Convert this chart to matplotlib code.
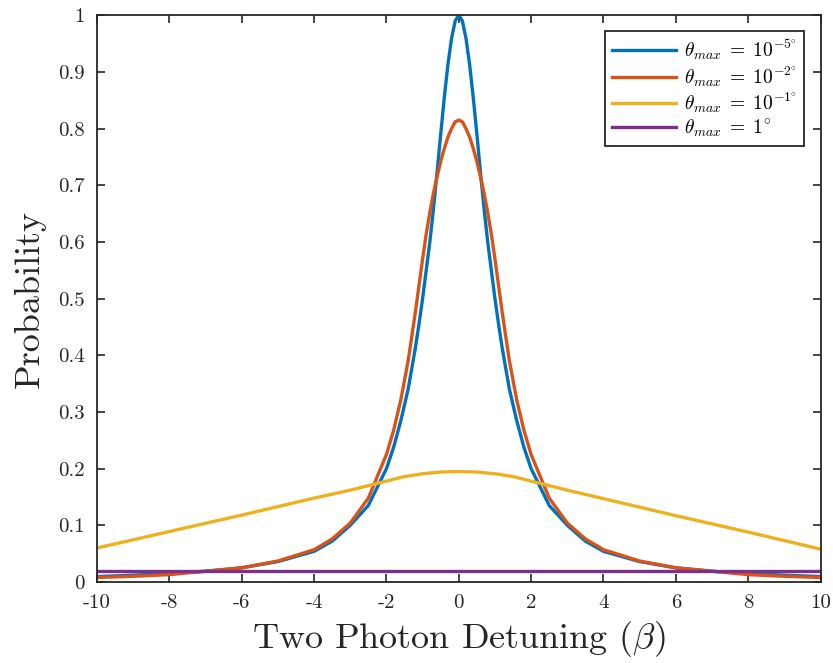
import matplotlib
matplotlib.use('Agg')
import matplotlib.pyplot as plt

plt.rcParams['mathtext.fontset'] = 'cm'
plt.rcParams['font.family'] = 'serif'
plt.rcParams['font.serif'] = ['cmr10', 'DejaVu Serif']
plt.rcParams['axes.unicode_minus'] = False
plt.rcParams['axes.formatter.use_mathtext'] = True

# detuning grid (beta), finer near the resonance
beta = [-10, -9, -8, -7, -6, -5, -4, -3.5, -3, -2.5, -2, -1.8, -1.6, -1.4, -1.2,
        -1.1, -1.0, -0.9, -0.8, -0.7, -0.6, -0.5, -0.4, -0.3, -0.2, -0.1, 0,
        0.1, 0.2, 0.3, 0.4, 0.5, 0.6, 0.7, 0.8, 0.9, 1.0, 1.1, 1.2, 1.4, 1.6,
        1.8, 2, 2.5, 3, 3.5, 4, 5, 6, 7, 8, 9, 10]

p_1e5 = [0.0095, 0.012, 0.015, 0.019, 0.025, 0.036, 0.054, 0.072, 0.10, 0.135, 0.20,
         0.238, 0.285, 0.34, 0.413, 0.455, 0.50, 0.55, 0.60, 0.658, 0.723, 0.79,
         0.855, 0.913, 0.959, 0.99, 1.0, 0.99, 0.959, 0.913, 0.855, 0.79, 0.723,
         0.658, 0.60, 0.55, 0.50, 0.455, 0.413, 0.34, 0.285, 0.238, 0.20, 0.135,
         0.10, 0.072, 0.054, 0.036, 0.025, 0.019, 0.015, 0.012, 0.0095]

p_1e2 = [0.008, 0.010, 0.013, 0.019, 0.025, 0.037, 0.057, 0.076, 0.104, 0.148, 0.225,
         0.268, 0.322, 0.39, 0.476, 0.523, 0.57, 0.614, 0.652, 0.686, 0.715, 0.742,
         0.765, 0.785, 0.80, 0.812, 0.815, 0.812, 0.80, 0.785, 0.765, 0.742, 0.715,
         0.686, 0.652, 0.614, 0.57, 0.523, 0.476, 0.39, 0.322, 0.268, 0.225, 0.148,
         0.104, 0.076, 0.057, 0.037, 0.025, 0.019, 0.013, 0.010, 0.008]

beta_wide = [-10, -8, -6, -4, -3, -2, -1.5, -1, -0.5, 0, 0.5, 1, 1.5, 2, 3, 4, 6, 8, 10]
p_1e1 = [0.060, 0.089, 0.118, 0.148, 0.162, 0.178, 0.186, 0.191, 0.194, 0.195,
         0.194, 0.191, 0.186, 0.178, 0.162, 0.147, 0.117, 0.088, 0.058]

beta_flat = [-10, 10]
p_1deg = [0.02, 0.02]

labels = [r'$\theta_{max}\;=\;10^{-5^{\circ}}$', r'$\theta_{max}\;=\;10^{-2^{\circ}}$',
          r'$\theta_{max}\;=\;10^{-1^{\circ}}$', r'$\theta_{max}\;=\;1^{\circ}$']
colors = ['#0072BD', '#D95319', '#EDB120', '#7E2F8E']

fig = plt.figure(figsize=(8.33, 6.63), dpi=100)
ax = fig.add_axes([0.1165, 0.1222, 0.8685, 0.8548])

ax.plot(beta, p_1e5, color=colors[0], lw=2.4, label=labels[0])
ax.plot(beta, p_1e2, color=colors[1], lw=2.4, label=labels[1])
ax.plot(beta_wide, p_1e1, color=colors[2], lw=2.4, label=labels[2])
ax.plot(beta_flat, p_1deg, color=colors[3], lw=2.4, label=labels[3])

ax.set_xlim(-10, 10)
ax.set_ylim(0, 1)
ax.set_xticks(range(-10, 11, 2))
ax.set_xticklabels([str(v) for v in range(-10, 11, 2)])
yt = [i / 10 for i in range(11)]
ax.set_yticks(yt)
ax.set_yticklabels(['0'] + ['%.1f' % v for v in yt[1:-1]] + ['1'])
ax.tick_params(direction='in', top=True, right=True, length=6, width=1.2,
               labelsize=15, colors='#262626', labelcolor='#262626', pad=9)
for s in ax.spines.values():
    s.set_linewidth(1.3)
    s.set_color('#262626')

ax.set_xlabel(r'Two Photon Detuning ($\beta$)', fontsize=26, color='#262626',
              labelpad=5)
ax.set_ylabel('Probability', fontsize=26, color='#262626', labelpad=9)

leg = ax.legend(loc='upper right', bbox_to_anchor=(0.977, 0.972), fontsize=14,
                fancybox=False, framealpha=1, edgecolor='#262626',
                handlelength=3.3, borderpad=0.35, labelspacing=0.1,
                handletextpad=0.4, borderaxespad=0)
leg.get_frame().set_linewidth(1.3)

fig.savefig('out.png', dpi=100)
